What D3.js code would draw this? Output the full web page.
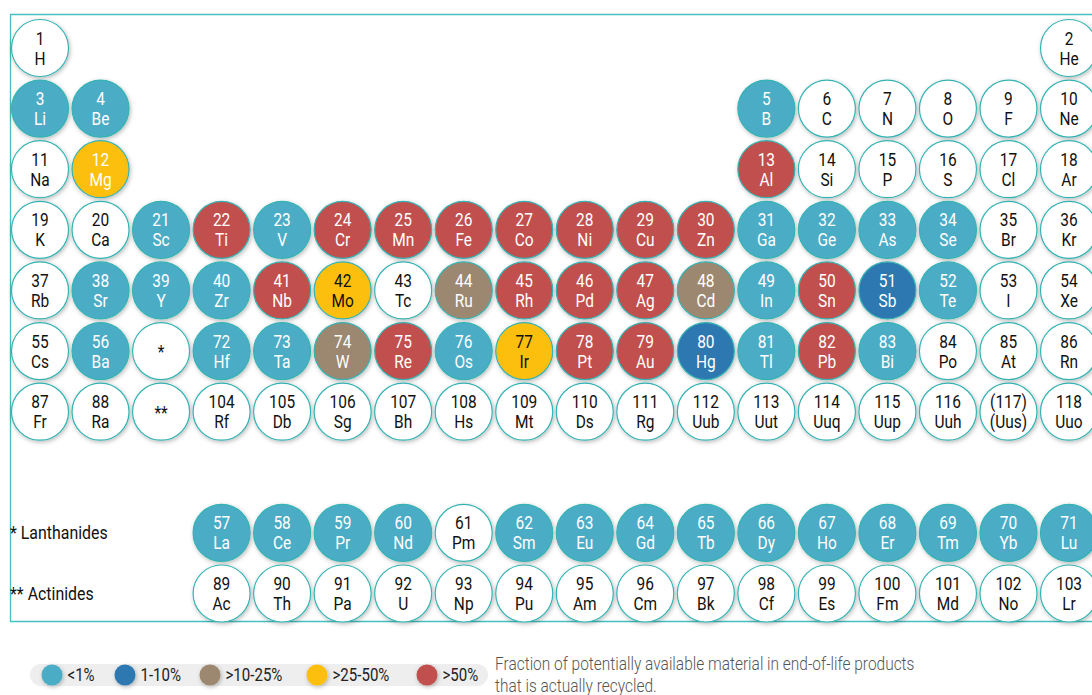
<!DOCTYPE html>
<html>
<head>
<meta charset="utf-8">
<script src="https://cdn.jsdelivr.net/npm/d3@7"></script>
<style>
	body { margin: 0; background: #fff; }
	svg text { font-family: Roboto, "Noto Sans", sans-serif; }
</style>
</head>
<body>
<script>
"use strict";

// recycle classes: 0 = no data, 1 = <1%, 2 = 1-10%, 3 = >10-25%, 4 = >25-50%, 5 = >50%
// [label, symbol, period row, group column, class]
const elements = [
	["1", "H", 1, 1, 0], ["2", "He", 1, 18, 0],
	["3", "Li", 2, 1, 1], ["4", "Be", 2, 2, 1], ["5", "B", 2, 13, 1], ["6", "C", 2, 14, 0],
	["7", "N", 2, 15, 0], ["8", "O", 2, 16, 0], ["9", "F", 2, 17, 0], ["10", "Ne", 2, 18, 0],
	["11", "Na", 3, 1, 0], ["12", "Mg", 3, 2, 4], ["13", "Al", 3, 13, 5], ["14", "Si", 3, 14, 0],
	["15", "P", 3, 15, 0], ["16", "S", 3, 16, 0], ["17", "Cl", 3, 17, 0], ["18", "Ar", 3, 18, 0],
	["19", "K", 4, 1, 0], ["20", "Ca", 4, 2, 0], ["21", "Sc", 4, 3, 1], ["22", "Ti", 4, 4, 5],
	["23", "V", 4, 5, 1], ["24", "Cr", 4, 6, 5], ["25", "Mn", 4, 7, 5], ["26", "Fe", 4, 8, 5],
	["27", "Co", 4, 9, 5], ["28", "Ni", 4, 10, 5], ["29", "Cu", 4, 11, 5], ["30", "Zn", 4, 12, 5],
	["31", "Ga", 4, 13, 1], ["32", "Ge", 4, 14, 1], ["33", "As", 4, 15, 1], ["34", "Se", 4, 16, 1],
	["35", "Br", 4, 17, 0], ["36", "Kr", 4, 18, 0],
	["37", "Rb", 5, 1, 0], ["38", "Sr", 5, 2, 1], ["39", "Y", 5, 3, 1], ["40", "Zr", 5, 4, 1],
	["41", "Nb", 5, 5, 5], ["42", "Mo", 5, 6, 4], ["43", "Tc", 5, 7, 0], ["44", "Ru", 5, 8, 3],
	["45", "Rh", 5, 9, 5], ["46", "Pd", 5, 10, 5], ["47", "Ag", 5, 11, 5], ["48", "Cd", 5, 12, 3],
	["49", "In", 5, 13, 1], ["50", "Sn", 5, 14, 5], ["51", "Sb", 5, 15, 2], ["52", "Te", 5, 16, 1],
	["53", "I", 5, 17, 0], ["54", "Xe", 5, 18, 0],
	["55", "Cs", 6, 1, 0], ["56", "Ba", 6, 2, 1], ["", "*", 6, 3, 0], ["72", "Hf", 6, 4, 1],
	["73", "Ta", 6, 5, 1], ["74", "W", 6, 6, 3], ["75", "Re", 6, 7, 5], ["76", "Os", 6, 8, 1],
	["77", "Ir", 6, 9, 4], ["78", "Pt", 6, 10, 5], ["79", "Au", 6, 11, 5], ["80", "Hg", 6, 12, 2],
	["81", "Tl", 6, 13, 1], ["82", "Pb", 6, 14, 5], ["83", "Bi", 6, 15, 1], ["84", "Po", 6, 16, 0],
	["85", "At", 6, 17, 0], ["86", "Rn", 6, 18, 0],
	["87", "Fr", 7, 1, 0], ["88", "Ra", 7, 2, 0], ["", "**", 7, 3, 0], ["104", "Rf", 7, 4, 0],
	["105", "Db", 7, 5, 0], ["106", "Sg", 7, 6, 0], ["107", "Bh", 7, 7, 0], ["108", "Hs", 7, 8, 0],
	["109", "Mt", 7, 9, 0], ["110", "Ds", 7, 10, 0], ["111", "Rg", 7, 11, 0], ["112", "Uub", 7, 12, 0],
	["113", "Uut", 7, 13, 0], ["114", "Uuq", 7, 14, 0], ["115", "Uup", 7, 15, 0], ["116", "Uuh", 7, 16, 0],
	["(117)", "(Uus)", 7, 17, 0], ["118", "Uuo", 7, 18, 0],
	["57", "La", 9, 4, 1], ["58", "Ce", 9, 5, 1], ["59", "Pr", 9, 6, 1], ["60", "Nd", 9, 7, 1],
	["61", "Pm", 9, 8, 0], ["62", "Sm", 9, 9, 1], ["63", "Eu", 9, 10, 1], ["64", "Gd", 9, 11, 1],
	["65", "Tb", 9, 12, 1], ["66", "Dy", 9, 13, 1], ["67", "Ho", 9, 14, 1], ["68", "Er", 9, 15, 1],
	["69", "Tm", 9, 16, 1], ["70", "Yb", 9, 17, 1], ["71", "Lu", 9, 18, 1],
	["89", "Ac", 10, 4, 0], ["90", "Th", 10, 5, 0], ["91", "Pa", 10, 6, 0], ["92", "U", 10, 7, 0],
	["93", "Np", 10, 8, 0], ["94", "Pu", 10, 9, 0], ["95", "Am", 10, 10, 0], ["96", "Cm", 10, 11, 0],
	["97", "Bk", 10, 12, 0], ["98", "Cf", 10, 13, 0], ["99", "Es", 10, 14, 0], ["100", "Fm", 10, 15, 0],
	["101", "Md", 10, 16, 0], ["102", "No", 10, 17, 0], ["103", "Lr", 10, 18, 0]
];

// symbols on yellow drawn in dark text
const darkTextOnYellow = ["Mo", "Ir"];

const classLabels = ["", "<1%", "1-10%", ">10-25%", ">25-50%", ">50%"];
const classColors = ["#ffffff", "#4bacc6", "#2f78b1", "#9c8870", "#fdbf11", "#c0504d"];

const seriesRows = [
	{ label: "* Lanthanides", row: 9 },
	{ label: "** Actinides", row: 10 }
];

const captionLines = [
	"Fraction of potentially available material in end-of-life products",
	"that is actually recycled."
];

const width = 1092, height = 695;
const radius = 28.5;
const squeeze = 0.86;

const svg = d3.select("body").append("svg")
	.attr("width", width)
	.attr("height", height);

const defs = svg.append("defs");
const shadow = defs.append("filter").attr("id", "shadow")
	.attr("x", "-30%").attr("y", "-30%").attr("width", "160%").attr("height", "160%");
shadow.append("feDropShadow")
	.attr("dx", 1).attr("dy", 1.5).attr("stdDeviation", 2)
	.attr("flood-color", "#000").attr("flood-opacity", 0.28);

const x = d3.scalePoint().domain(d3.range(1, 19)).range([40, 1069]);
const y = d3.scalePoint().domain(d3.range(1, 11)).range([48, 593.5]);

// frame
svg.append("path")
	.attr("d", `M${width + 5},14.5 H10.5 V621.5 H${width + 5}`)
	.attr("fill", "none")
	.attr("stroke", "#45bfbf")
	.attr("stroke-width", 1.3);

function squeezedText(sel, tx, ty, s) {
	return sel.append("text")
		.attr("transform", `translate(${tx},${ty}) scale(${s},1)`);
}

const cell = svg.append("g").selectAll("g")
	.data(elements)
	.join("g")
	.attr("transform", d => `translate(${x(d[3])},${y(d[2])})`);

cell.append("circle")
	.attr("r", radius)
	.attr("fill", d => classColors[d[4]])
	.attr("stroke", "#35b3b3")
	.attr("stroke-width", 1.2)
	.attr("filter", "url(#shadow)");

const textColor = d => {
	if (d[4] === 0) return "#111";
	if (d[4] === 4 && darkTextOnYellow.includes(d[1])) return "#111";
	return "#fff";
};

cell.each(function (d) {
	const g = d3.select(this);
	if (d[0] === "") {
		squeezedText(g, 0, 7, squeeze).attr("text-anchor", "middle")
			.attr("font-size", 18).attr("fill", "#111").text(d[1]);
		return;
	}
	squeezedText(g, 0, -3.5, squeeze).attr("text-anchor", "middle")
		.attr("font-size", 18).attr("fill", textColor(d)).text(d[0]);
	squeezedText(g, 0, 16.5, squeeze).attr("text-anchor", "middle")
		.attr("font-size", 18).attr("fill", textColor(d)).text(d[1]);
});

// series labels
for (const s of seriesRows) {
	squeezedText(svg, 10, y(s.row) + 6, squeeze)
		.attr("font-size", 18.5).attr("fill", "#111").text(s.label);
}

// legend
const legendX = [52, 125, 210, 317, 427];
svg.append("rect")
	.attr("x", 30).attr("y", 664)
	.attr("width", 458).attr("height", 22)
	.attr("rx", 11)
	.attr("fill", "#eeeeee");

const legendItems = d3.range(1, 6);
const legend = svg.append("g").selectAll("g")
	.data(legendItems)
	.join("g")
	.attr("transform", (d, i) => `translate(${legendX[i]},675)`);

legend.append("circle")
	.attr("r", 10.5)
	.attr("fill", d => classColors[d])
	.attr("filter", "url(#shadow)");

legend.each(function (d) {
	squeezedText(d3.select(this), 15.5, 6, squeeze)
		.attr("font-size", 17.5).attr("fill", "#222").text(classLabels[d]);
});

captionLines.forEach((line, i) => {
	squeezedText(svg, 495, 670 + i * 22, squeeze)
		.attr("font-size", 18).attr("font-weight", 300).attr("fill", "#555").text(line);
});
</script>
</body>
</html>
